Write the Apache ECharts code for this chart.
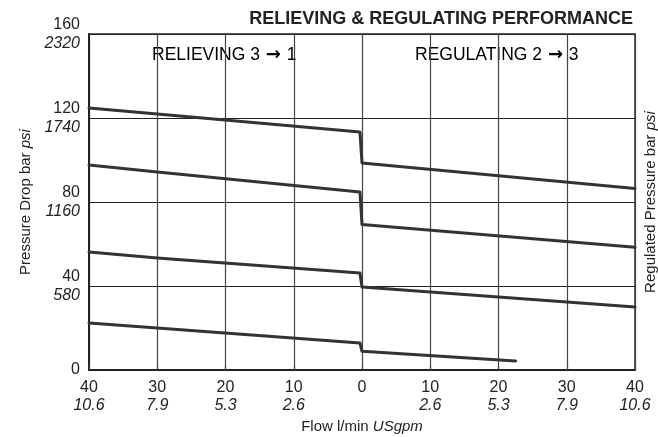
<!DOCTYPE html>
<html>
<head>
<meta charset="utf-8">
<script src="https://cdn.jsdelivr.net/npm/echarts@6/dist/echarts.min.js"></script>
<style>html,body{margin:0;padding:0;background:#fff}#c{width:658px;height:437px}</style>
</head>
<body>
<div id="c"></div>
<script>
// Flow in l/min (negative = relieving side 3->1, positive = regulating side 2->3)
const flowTicks = [-40, -30, -20, -10, 0, 10, 20, 30, 40];
const usgpmTicks = ['10.6', '7.9', '5.3', '2.6', '', '2.6', '5.3', '7.9', '10.6'];
const barTicks = [0, 40, 80, 120, 160];
const psiTicks = ['', '580', '1160', '1740', '2320'];

// Curve points (flow l/min, pressure bar)
const curve1Flow = [-40, -30, -0.3, 0, 40];
const curve1Bar  = [124.8, 121.9, 113.3, 98.6, 86.4];
const curve2Flow = [-40, -30, -0.3, 0, 40];
const curve2Bar  = [97.6, 94.3, 84.8, 69.3, 58.4];
const curve3Flow = [-40, -30, -0.3, 0, 40];
const curve3Bar  = [56.2, 53.3, 46.2, 39.5, 30.0];
const curve4Flow = [-40, -30, -0.3, 0, 22.5];
const curve4Bar  = [22.4, 20.0, 12.9, 8.9, 4.3];

const curves = [[curve1Flow, curve1Bar], [curve2Flow, curve2Bar], [curve3Flow, curve3Bar], [curve4Flow, curve4Bar]];

const FONT = '"Liberation Sans", Arial, Helvetica, sans-serif';
const chart = echarts.init(document.getElementById('c'), null, {renderer: 'canvas'});

const arrowRich = {
  t: {fontSize: 17.5, fontFamily: FONT, color: '#222'},
  r: {fontSize: 18, fontFamily: '"DejaVu Sans", sans-serif', fontWeight: 'bold', color: '#222', padding: [0, 1, 0, 1]}
};

chart.setOption({
  backgroundColor: '#fff',
  animation: false,
  grid: {left: 89, top: 34, width: 546, height: 336, show: true, borderColor: '#2a2a2a', borderWidth: 1.5,
         backgroundColor: 'transparent', containLabel: false, outerBoundsMode: 'none'},
  xAxis: [{
    type: 'value', min: -40, max: 40, interval: 10, position: 'bottom',
    axisLine: {show: true, onZero: false, lineStyle: {color: '#222', width: 2}},
    axisTick: {show: false},
    splitLine: {show: true, lineStyle: {color: '#444', width: 1.2}},
    axisLabel: {
      margin: 9, fontFamily: FONT, color: '#222',
      formatter: function (v) {
        const i = flowTicks.indexOf(Math.round(v));
        const top = Math.abs(v);
        if (!usgpmTicks[i]) return '{a|' + top + '}';
        return '{a|' + top + '}\n{b|' + usgpmTicks[i] + '}';
      },
      rich: {
        a: {fontSize: 16, fontFamily: FONT, color: '#222', lineHeight: 18},
        b: {fontSize: 16, fontFamily: FONT, fontStyle: 'italic', color: '#222', lineHeight: 18}
      }
    },
    name: 'Flow l/min {i|USgpm}', nameLocation: 'middle', nameGap: 46,
    nameTextStyle: {fontSize: 15, fontFamily: FONT, color: '#222',
      rich: {i: {fontSize: 15, fontFamily: FONT, fontStyle: 'italic', color: '#222'}}}
  }, {
    type: 'value', min: -40, max: 40, interval: 10, position: 'top',
    axisLine: {show: false}, axisLabel: {show: false}, splitLine: {show: false},
    axisTick: {show: true, length: 4, lineStyle: {color: '#444', width: 1.2}}
  }],
  yAxis: [{
    type: 'value', min: 0, max: 160, interval: 40, position: 'left',
    axisLine: {show: true, onZero: false, lineStyle: {color: '#222', width: 2}},
    axisTick: {show: false},
    splitLine: {show: true, lineStyle: {color: '#222', width: 1}},
    axisLabel: {
      margin: 9, fontFamily: FONT, color: '#222', align: 'right',
      formatter: function (v) {
        const i = barTicks.indexOf(Math.round(v));
        if (!psiTicks[i]) return '{a|' + v + '}';
        return '{a|' + v + '}\n{b|' + psiTicks[i] + '}';
      },
      rich: {
        a: {fontSize: 16, fontFamily: FONT, color: '#222', lineHeight: 19, align: 'right'},
        b: {fontSize: 16, fontFamily: FONT, fontStyle: 'italic', color: '#222', lineHeight: 19, align: 'right'}
      }
    },
    name: 'Pressure Drop bar {i|psi}', nameLocation: 'middle', nameGap: 55, nameRotate: 90,
    nameTextStyle: {fontSize: 15, fontFamily: FONT, color: '#222',
      rich: {i: {fontSize: 15, fontFamily: FONT, fontStyle: 'italic', color: '#222'}}}
  }, {
    type: 'value', min: 0, max: 160, interval: 40, position: 'right',
    axisLine: {show: false}, axisTick: {show: false}, axisLabel: {show: false}, splitLine: {show: false},
    name: 'Regulated Pressure bar {i|psi}', nameLocation: 'middle', nameGap: 8, nameRotate: 90,
    nameTextStyle: {fontSize: 15, fontFamily: FONT, color: '#222', verticalAlign: 'top',
      rich: {i: {fontSize: 15, fontFamily: FONT, fontStyle: 'italic', color: '#222'}}}
  }],
  graphic: [
    {type: 'text', right: 25, top: 10, style: {text: 'RELIEVING & REGULATING PERFORMANCE', font: 'bold 18px ' + FONT, fill: '#222'}},
    {type: 'text', left: 152, top: 46, style: {text: '{t|RELIEVING 3 }{r|\u2192}{t| 1}', rich: arrowRich}},
    {type: 'text', left: 415, top: 46, style: {text: '{t|REGULATING 2 }{r|\u2192}{t| 3}', rich: arrowRich}}
  ],
  series: curves.map(function (c) {
    return {
      type: 'line', xAxisIndex: 0, yAxisIndex: 0, symbol: 'none', silent: true,
      lineStyle: {color: '#333', width: 3, cap: 'round', join: 'round'},
      data: c[0].map(function (x, k) { return [x, c[1][k]]; })
    };
  })
});
</script>
</body>
</html>
